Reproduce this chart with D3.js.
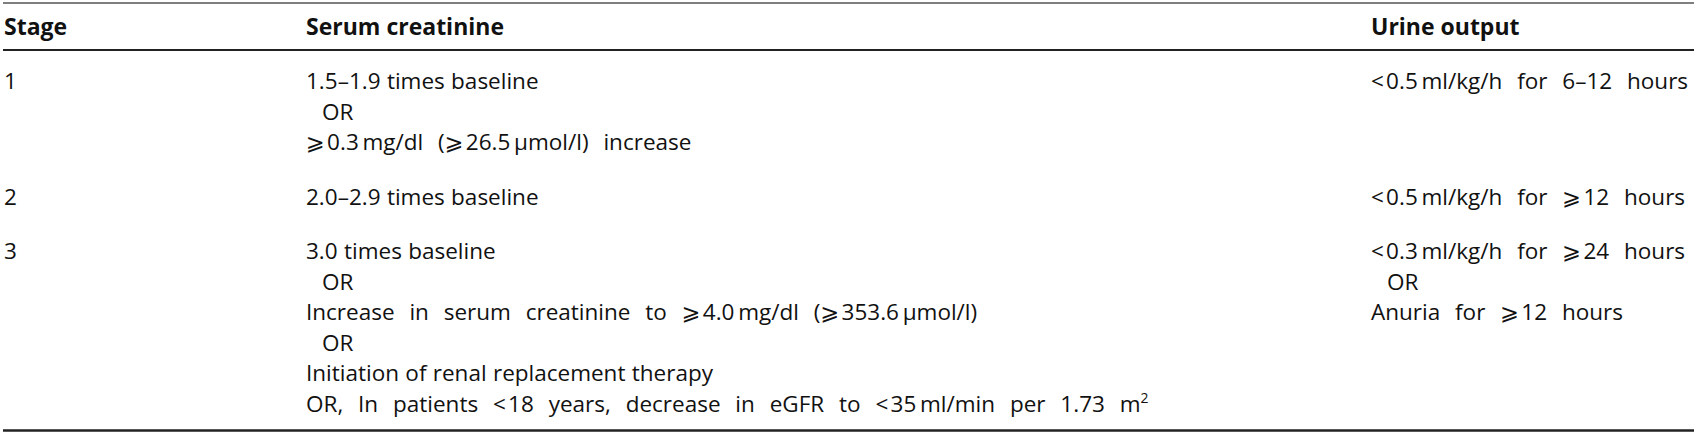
<!DOCTYPE html>
<html lang="en">
<head>
    <meta charset="UTF-8">
    <title>AKI staging</title>
    <script src="https://d3js.org/d3.v7.min.js"></script>
    <style>
        body { margin: 0; padding: 0; background: #fff; }
        svg { display: block; }
        text { font-family: "Open Sans", "Noto Sans", "DejaVu Sans", sans-serif; fill: #111; }
        .head { font-weight: bold; }
        .sym { font-family: "DejaVu Sans", sans-serif; }
    </style>
</head>
<body>
    <div id="table"></div>
    <script>
        // table content
        var columns = ["Stage", "Serum creatinine", "Urine output"];
        var stages = ["1", "2", "3"];
        var creatinine = [
            ["1.5–1.9 times baseline", "OR", "⩾\u200a0.3\u2009mg/dl (⩾\u200a26.5\u2009μmol/l) increase"],
            ["2.0–2.9 times baseline"],
            ["3.0 times baseline", "OR", "Increase in serum creatinine to ⩾\u200a4.0\u2009mg/dl (⩾\u200a353.6\u2009μmol/l)", "OR",
             "Initiation of renal replacement therapy",
             "OR, In patients <\u200a18 years, decrease in eGFR to <\u200a35\u2009ml/min per 1.73 m^2"]
        ];
        var urine = [
            ["<\u200a0.5\u2009ml/kg/h for 6–12 hours"],
            ["<\u200a0.5\u2009ml/kg/h for ⩾\u200a12 hours"],
            ["<\u200a0.3\u2009ml/kg/h for ⩾\u200a24 hours", "OR", "Anuria for ⩾\u200a12 hours"]
        ];

        var w = 1700, h = 432;
        var headSize = 23;
        var fontSize = 22.5;
        var lineH = 30.5;
        var rowGap = 24;

        var svg = d3.select("#table").append("svg")
            .attr("width", w)
            .attr("height", h);

        var x = d3.scaleOrdinal()
            .domain(columns)
            .range([4, 306, 1371]);

        // rows: line counts and first-baseline positions
        var rows = stages.map(function (s, i) {
            return { stage: s, cells: [[s], creatinine[i], urine[i]] };
        });
        rows.forEach(function (r) {
            r.n = d3.max(r.cells, function (c) { return c.length; });
        });
        var y0 = 89;
        rows.forEach(function (r) {
            r.y = y0;
            y0 += (r.n - 1) * lineH + lineH + rowGap;
        });
        var last = rows[rows.length - 1];
        var lastY = last.y + (last.n - 1) * lineH;

        // rules
        svg.append("line")
            .attr("x1", 3).attr("x2", w - 6)
            .attr("y1", 3).attr("y2", 3)
            .attr("stroke", "#555").attr("stroke-width", 1.5);
        svg.append("line")
            .attr("x1", 3).attr("x2", w - 6)
            .attr("y1", 50).attr("y2", 50)
            .attr("stroke", "#222").attr("stroke-width", 2);
        svg.append("line")
            .attr("x1", 3).attr("x2", w - 6)
            .attr("y1", lastY + 19).attr("y2", lastY + 19)
            .attr("stroke", "#222").attr("stroke-width", 2.5);

        // header
        svg.append("g").selectAll("text")
            .data(columns)
            .enter()
            .append("text")
            .attr("class", "head")
            .attr("x", function (d) { return x(d); })
            .attr("y", 35)
            .style("font-size", headSize + "px")
            .text(function (d) { return d; });

        // one line of a cell, with the slanted >= and the superscript split out
        function writeLine(sel, str) {
            var parts = str.split(/(⩾|\^2)/);
            parts.forEach(function (p) {
                if (p === "") return;
                if (p === "⩾") {
                    sel.append("tspan").attr("class", "sym").text("⩾");
                } else if (p === "^2") {
                    sel.append("tspan")
                        .attr("dy", -9)
                        .style("font-size", (fontSize * 0.62) + "px")
                        .text("2");
                } else {
                    sel.append("tspan").text(p);
                }
            });
        }

        // lines with math symbols are set looser, as in the print
        function isMath(line) { return /[<⩾]/.test(line); }

        var g = svg.append("g");
        rows.forEach(function (r) {
            r.cells.forEach(function (cell, ci) {
                cell.forEach(function (line, li) {
                    var t = g.append("text")
                        .attr("x", x(columns[ci]) + (line === "OR" ? 16 : 0))
                        .attr("y", r.y + li * lineH)
                        .style("font-size", fontSize + "px")
                        .style("word-spacing", (isMath(line) ? 9 : 0.5) + "px");
                    writeLine(t, line);
                });
            });
        });
    </script>
</body>
</html>
